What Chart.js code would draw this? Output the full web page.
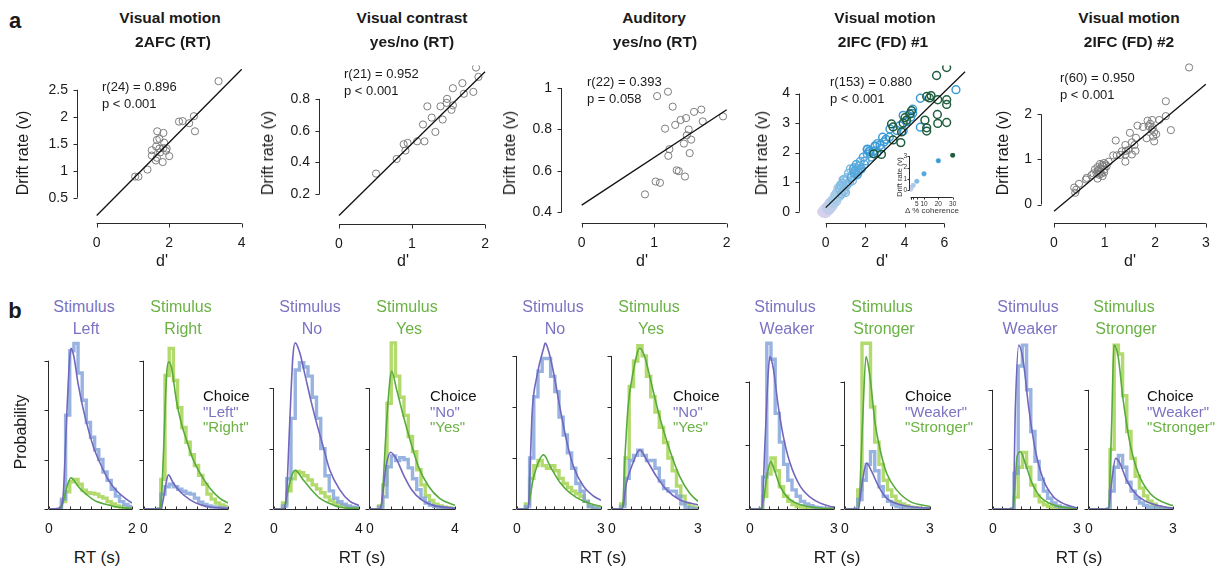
<!DOCTYPE html>
<html>
<head>
<meta charset="utf-8">
<script src="https://cdn.jsdelivr.net/npm/chart.js@4.4.1/dist/chart.umd.min.js"></script>
<style>
  body { margin: 0; width: 1221px; height: 567px; overflow: hidden; position: relative; background: #fff;
         font-family: "Liberation Sans", Arial, Helvetica, sans-serif; color: #1a1a1a; }
  canvas { position: absolute; }
  .t { position: absolute; white-space: nowrap; transform: translate(-50%, -50%); line-height: 1; }
  .l { position: absolute; white-space: nowrap; transform: translate(0, -50%); line-height: 1; }
</style>
</head>
<body>
<script>
// ---------- panel a: d' vs drift rate ----------
const p1Pts = [[3.36,2.66],[2.68,2.01],[2.71,1.73],[2.55,1.88],[2.27,1.91],[2.37,1.92],[1.67,1.73],[1.84,1.70],
  [1.66,1.57],[1.73,1.59],[1.86,1.52],[1.52,1.38],[1.64,1.45],[1.73,1.41],[1.84,1.42],[1.93,1.41],[1.91,1.37],
  [1.75,1.34],[1.52,1.28],[1.66,1.24],[2.0,1.27],[1.63,1.19],[1.82,1.16],[1.40,1.02],[1.06,0.89],[1.15,0.89]];
const p1Fit = [[0, 0.17], [4, 2.88]];

const p2Pts = [[1.877,0.997],[1.91,0.938],[1.69,0.899],[1.56,0.867],[1.71,0.832],[1.84,0.844],[1.48,0.80],
  [1.475,0.775],[1.39,0.753],[1.56,0.759],[1.54,0.731],[1.21,0.753],[1.27,0.682],[1.42,0.670],[1.15,0.639],
  [1.32,0.592],[1.17,0.533],[1.07,0.533],[0.94,0.523],[0.886,0.515],[0.91,0.475],[0.79,0.422],[0.507,0.330]];
const p2Fit = [[0, 0.066], [2, 0.971]];

const p3Pts = [[1.04,0.961],[1.19,0.982],[1.255,0.91],[1.15,0.804],[1.29,0.822],[1.365,0.846],[1.44,0.855],
  [1.55,0.885],[1.65,0.896],[1.67,0.839],[1.95,0.863],[1.476,0.80],[1.45,0.772],[1.51,0.751],[1.41,0.732],
  [1.21,0.705],[1.195,0.673],[1.49,0.686],[1.31,0.603],[1.34,0.599],[1.425,0.573],[1.02,0.549],[1.08,0.543],[0.873,0.487]];
const p3Fit = [[0, 0.435], [2, 0.895]];

// 2IFC (FD) #1, one list per coherence level
const p4Coh0625 = [[-0.15,0.02],[-0.1,0.05],[-0.05,-0.02],[0.0,0.04],[0.05,0.08],[-0.12,-0.05],[0.02,0.0],[0.1,0.1],
  [-0.08,0.1],[0.08,0.03],[0.0,-0.06],[0.15,0.12],[-0.2,0.0],[0.05,0.15],[0.12,0.05],[-0.03,0.12],[0.2,0.06],
  [0.07,-0.03],[-0.1,0.0],[0.03,0.07],[0.18,0.15],[-0.06,0.03]];
const p4Coh125 = [[0.1,0.15],[0.2,0.2],[0.15,0.25],[0.3,0.3],[0.25,0.18],[0.05,0.1],[0.35,0.25],[0.2,0.32],
  [0.4,0.38],[0.12,0.22],[0.28,0.12],[0.45,0.3],[0.18,0.08],[0.32,0.4],[0.5,0.42],[0.22,0.28],[0.38,0.2],
  [0.08,0.2],[0.42,0.45],[0.27,0.35],[0.15,0.05],[0.55,0.35]];
const p4Coh25 = [[0.4,0.45],[0.55,0.5],[0.6,0.62],[0.5,0.4],[0.7,0.6],[0.65,0.75],[0.45,0.55],[0.8,0.7],
  [0.75,0.82],[0.6,0.45],[0.85,0.78],[0.35,0.38],[0.9,0.85],[0.55,0.65],[0.7,0.52],[0.5,0.58],[0.95,0.7],
  [0.62,0.8],[0.82,0.9],[0.4,0.3],[0.72,0.68],[0.58,0.55]];
const p4Coh5 = [[0.7,0.78],[0.85,0.95],[1.0,1.05],[0.9,0.7],[1.1,1.15],[1.2,1.0],[0.95,1.1],[1.3,1.2],
  [1.05,0.88],[1.4,1.35],[0.8,0.6],[1.15,1.3],[1.5,1.25],[1.25,1.45],[1.6,1.4],[0.75,0.9],[1.35,1.05],
  [1.0,0.65],[1.45,1.5],[1.7,1.45],[1.1,0.95],[0.88,1.08]];
const p4Coh10 = [[1.3,1.15],[1.5,1.4],[1.6,1.25],[1.7,1.55],[1.8,1.45],[1.55,1.6],[2.0,1.72],[1.9,1.85],
  [2.1,1.95],[1.65,1.35],[2.2,2.05],[2.4,2.05],[1.45,1.3],[2.5,2.2],[2.3,1.85],[1.75,1.7],[2.1,2.1],
  [2.6,2.3],[1.95,1.6],[2.8,2.15],[1.4,1.45],[2.25,1.98]];
const p4Coh20 = [[2.11,2.12],[2.21,2.04],[2.41,2.04],[2.5,2.23],[2.75,2.25],[2.95,2.36],[2.88,2.52],[3.22,2.52],
  [3.25,2.8],[3.75,2.91],[3.92,2.73],[3.92,3.26],[4.4,3.47],[4.4,3.33],[4.79,3.84],[4.79,2.86],[6.59,4.13],
  [3.6,2.75],[4.1,3.05],[4.3,3.2],[3.05,2.45],[2.6,2.0]];
const p4Coh30 = [[6.12,4.88],[5.61,4.61],[6.12,3.79],[6.12,3.63],[5.67,3.79],[5.33,3.93],[5.11,3.90],[5.25,3.85],
  [5.65,3.29],[5.02,3.10],[5.11,2.84],[5.11,2.73],[5.67,2.99],[6.12,3.02],[4.01,3.18],[4.26,3.31],[4.09,3.10],
  [3.92,3.0],[3.84,2.70],[3.80,2.34],[3.33,2.97],[3.41,2.87],[3.41,2.43],[2.82,1.94],[2.43,1.96],[4.34,3.42]];
const p4Fit = [[0, 0.14], [7.05, 4.74]];
const insetCoh = [0.625, 1.25, 2.5, 5, 10, 20, 30];
const insetDrift = [0.08, 0.25, 0.45, 0.8, 1.45, 2.6, 3.08];

const p5Pts = [[2.67,3.04],[2.21,2.29],[2.21,1.96],[2.31,1.65],[2.08,1.875],[1.94,1.875],[1.85,1.86],[1.90,1.79],
  [1.87,1.74],[1.95,1.70],[1.98,1.61],[2.02,1.56],[1.96,1.51],[1.98,1.40],[1.83,1.47],[1.65,1.75],[1.50,1.59],
  [1.62,1.48],[1.54,1.38],[1.59,1.32],[1.61,1.19],[1.54,1.11],[1.41,1.32],[1.22,1.42],[1.42,1.19],[1.34,1.18],
  [1.31,1.10],[1.41,1.11],[1.24,1.09],[1.17,1.09],[1.41,0.95],[1.08,0.95],[0.99,0.92],[0.91,0.90],[0.97,0.85],
  [1.04,0.85],[0.86,0.83],[0.92,0.80],[0.81,0.78],[0.87,0.74],[0.92,0.73],[0.99,0.71],[0.84,0.69],[0.78,0.69],
  [0.89,0.66],[0.96,0.63],[0.86,0.575],[1.00,0.78],[0.74,0.65],[0.646,0.59],[0.63,0.555],[0.494,0.46],
  [0.40,0.375],[0.44,0.33],[0.42,0.26],[0.95,0.88],[0.88,0.77],[1.02,0.89],[1.93,1.66],[1.47,1.21],[0.93,0.68],[1.76,1.72]];
const p5Fit = [[0, -0.15], [3, 2.67]];

// ---------- panel b: RT distributions ----------
const bins1 = [0.3,0.4,0.5,0.6,0.7,0.8,0.9,1.0,1.1,1.2,1.3,1.4,1.5,1.6,1.7,1.8,1.9,2.0];
const hist1LBlue = [0.2,1.9,3.2,3.35,2.75,2.2,1.75,1.45,1.2,1.0,0.75,0.58,0.4,0.26,0.15,0.09,0.05];
const hist1LGreen = [0.15,0.35,0.55,0.6,0.5,0.38,0.33,0.32,0.3,0.25,0.22,0.15,0.1,0.06,0.04,0.02,0.01];
const hist1RBlue = [0,0.3,0.45,0.5,0.45,0.4,0.36,0.32,0.3,0.22,0.14,0.09,0.06,0.04,0.03,0.02,0.01];
const hist1RGreen = [0,0.6,2.7,3.25,2.6,2.05,1.65,1.35,1.1,0.88,0.68,0.5,0.3,0.2,0.12,0.08,0.05];
const fit1LPurple = [[0,0],[0.26,0.02],[0.34,0.26],[0.42,1.74],[0.49,2.95],[0.53,3.25],[0.6,3.08],[0.7,2.54],[0.83,2.0],
  [0.95,1.6],[1.07,1.26],[1.23,0.93],[1.43,0.59],[1.64,0.36],[1.88,0.19],[2.0,0.12]];
const fit1LGreen = [[0,0],[0.28,0],[0.36,0.2],[0.45,0.5],[0.53,0.63],[0.6,0.58],[0.7,0.46],[0.8,0.37],[0.91,0.29],
  [1.03,0.21],[1.15,0.15],[1.39,0.09],[1.64,0.04],[2.0,0.01]];
const fit1RPurple = [[0,0],[0.4,0],[0.46,0.2],[0.52,0.5],[0.58,0.69],[0.7,0.52],[0.85,0.36],[1.09,0.19],[1.33,0.09],
  [1.57,0.04],[2.0,0.01]];
const fit1RGreen = [[0,0],[0.36,0],[0.42,0.3],[0.46,1.06],[0.54,2.74],[0.59,2.98],[0.66,2.84],[0.77,2.2],[0.89,1.73],
  [1.01,1.4],[1.17,1.0],[1.33,0.73],[1.57,0.42],[1.8,0.22],[2.0,0.12]];

const bins2 = [0.4,0.6,0.8,1.0,1.2,1.4,1.6,1.8,2.0,2.2,2.4,2.6,2.8,3.0,3.2,3.4,3.6,3.8,4.0];
const hist2LBlue = [0.05,0.5,1.5,2.3,2.42,2.35,2.2,1.85,1.5,1.0,0.55,0.3,0.18,0.12,0.08,0.05,0.03,0.02];
const hist2LGreen = [0.1,0.3,0.5,0.62,0.6,0.55,0.48,0.4,0.33,0.27,0.2,0.14,0.1,0.07,0.05,0.03,0.02,0.01];
const hist2RBlue = [0.03,0.2,0.7,0.88,0.8,0.85,0.82,0.68,0.5,0.32,0.18,0.1,0.06,0.04,0.03,0.02,0.01,0];
const hist2RGreen = [0.05,0.4,1.75,2.75,2.2,1.85,1.55,1.2,0.95,0.65,0.4,0.22,0.14,0.08,0.05,0.03,0.02,0.01];
const fit2LPurple = [[0,0],[0.45,0],[0.6,0.3],[0.74,1.43],[0.89,2.53],[1.0,2.75],[1.21,2.59],[1.44,2.25],[1.76,1.76],
  [2.0,1.43],[2.31,1.04],[2.62,0.65],[3.09,0.32],[3.56,0.13],[4.0,0.06]];
const fit2LGreen = [[0,0],[0.45,0],[0.6,0.2],[0.82,0.54],[1.0,0.64],[1.36,0.49],[1.76,0.32],[2.15,0.18],[2.62,0.09],
  [3.09,0.03],[4.0,0.01]];
const fit2RPurple = [[0,0],[0.45,0],[0.55,0.1],[0.75,0.7],[0.97,0.94],[1.25,0.82],[1.57,0.57],[1.96,0.32],[2.43,0.15],
  [2.98,0.06],[4.0,0.01]];
const fit2RGreen = [[0,0],[0.45,0],[0.55,0.1],[0.78,1.43],[0.94,2.14],[1.02,2.28],[1.25,1.98],[1.57,1.54],[1.88,1.15],
  [2.27,0.71],[2.75,0.38],[3.29,0.17],[4.0,0.06]];

const bins3 = [0.3,0.45,0.6,0.75,0.9,1.05,1.2,1.35,1.5,1.65,1.8,1.95,2.1,2.25,2.4,2.55,2.7,2.85,3.0];
const hist3LBlue = [0.05,1.0,2.2,2.7,2.95,2.95,2.6,2.3,1.8,1.45,1.1,0.8,0.5,0.35,0.15,0.05,0.02,0];
const hist3LGreen = [0.1,0.6,0.85,0.95,0.85,0.8,0.85,0.75,0.6,0.5,0.42,0.35,0.3,0.25,0.15,0.05,0.02,0];
const hist3RBlue = [0.05,0.6,0.95,1.05,1.15,1.05,0.95,0.95,0.8,0.55,0.4,0.35,0.35,0.25,0.1,0.03,0.01,0];
const hist3RGreen = [0.1,1.0,2.4,2.9,3.2,3.0,2.6,2.2,1.9,1.6,1.3,1.0,0.75,0.45,0.25,0.1,0.05,0.02];
const fit3LPurple = [[0,0],[0.4,0],[0.48,1.0],[0.54,1.88],[0.71,2.6],[0.95,3.15],[1.01,3.25],[1.13,3.09],[1.31,2.66],
  [1.55,1.94],[1.79,1.29],[2.02,0.83],[2.38,0.44],[2.74,0.25],[3.0,0.17]];
const fit3LGreen = [[0,0],[0.36,0],[0.6,0.64],[0.95,1.06],[1.19,0.83],[1.55,0.51],[1.9,0.31],[2.38,0.15],[3.0,0.05]];
const fit3RPurple = [[0,0],[0.36,0],[0.5,0.5],[0.73,0.9],[0.97,1.16],[1.2,0.97],[1.55,0.64],[1.9,0.38],[2.36,0.18],[3.0,0.08]];
const fit3RGreen = [[0,0],[0.36,0],[0.45,1.0],[0.56,2.0],[0.73,2.66],[0.97,3.15],[1.14,2.99],[1.37,2.47],[1.66,1.81],
  [2.01,1.16],[2.36,0.64],[2.71,0.31],[3.0,0.15]];

const bins4 = bins3;
const hist4LBlue = [0,0.5,2.6,2.35,1.5,1.05,0.7,0.45,0.3,0.2,0.12,0.08,0.05,0.03,0.02,0.01,0,0];
const hist4LGreen = [0,0.2,0.55,0.8,0.6,0.35,0.2,0.12,0.07,0.04,0.03,0.02,0.01,0,0,0,0,0];
const hist4RBlue = [0,0.15,0.45,0.7,0.9,0.6,0.35,0.2,0.12,0.07,0.04,0.02,0.01,0,0,0,0,0];
const hist4RGreen = [0,0.3,2.6,2.6,1.6,1.05,0.7,0.45,0.3,0.2,0.12,0.08,0.05,0.03,0.02,0.01,0,0];
const fit4LPurple = [[0,0],[0.42,0],[0.54,1.09],[0.65,2.13],[0.71,2.39],[0.83,2.21],[1.01,1.61],[1.19,1.14],[1.43,0.72],
  [1.79,0.36],[2.26,0.15],[2.86,0.04],[3.0,0.03]];
const fit4LGreen = [[0,0],[0.42,0],[0.6,0.51],[0.74,0.74],[0.89,0.59],[1.07,0.36],[1.37,0.17],[1.79,0.07],[2.38,0.02],[3.0,0]];
const fit4RPurple = [[0,0],[0.47,0],[0.6,0.4],[0.76,0.72],[0.94,0.59],[1.18,0.36],[1.47,0.17],[1.94,0.07],[3.0,0.01]];
const fit4RGreen = [[0,0],[0.47,0],[0.62,1.35],[0.74,2.39],[0.88,2.08],[1.06,1.35],[1.24,0.93],[1.47,0.56],[1.82,0.3],
  [2.29,0.12],[3.0,0.04]];

const bins5 = [0.6,0.75,0.9,1.05,1.2,1.35,1.5,1.65,1.8,1.95,2.1,2.25,2.4,2.55,2.7,2.85,3.0];
const hist5LBlue = [0,0.6,2.4,2.75,2.0,1.3,0.8,0.5,0.3,0.18,0.1,0.05,0.03,0.02,0.01,0];
const hist5LGreen = [0,0.2,0.7,0.95,0.7,0.4,0.22,0.12,0.07,0.04,0.02,0.01,0,0,0,0];
const hist5RBlue = [0,0.3,0.7,0.9,0.7,0.45,0.3,0.18,0.1,0.06,0.03,0.02,0.01,0,0,0];
const hist5RGreen = [0,1.0,2.75,2.6,1.9,1.3,0.85,0.55,0.35,0.22,0.13,0.08,0.04,0.02,0.01,0];
const fit5LPurple = [[0,0],[0.72,0],[0.8,1.72],[0.92,2.75],[1.09,2.45],[1.27,1.72],[1.51,0.99],[1.8,0.49],[2.15,0.21],
  [2.62,0.07],[3.0,0.02]];
const fit5LGreen = [[0,0],[0.72,0],[0.86,0.88],[0.98,0.96],[1.15,0.77],[1.39,0.44],[1.68,0.21],[2.15,0.07],[3.0,0]];
const fit5RPurple = [[0,0],[0.69,0],[0.82,0.5],[0.95,0.85],[1.1,0.77],[1.34,0.49],[1.7,0.24],[2.17,0.1],[3.0,0.01]];
const fit5RGreen = [[0,0],[0.69,0],[0.81,1.44],[0.89,2.75],[1.04,2.56],[1.22,1.83],[1.46,1.11],[1.76,0.6],[2.17,0.27],
  [2.88,0.07],[3.0,0.06]];

// ---------- styling ----------
const FONT = '"Liberation Sans", Arial, Helvetica, sans-serif';
const PURPLE = '#7167bd', GREEN = '#58aa3e';
const BLUE_H = 'rgba(128,160,218,0.8)', GREEN_H = 'rgba(164,212,82,0.85)';
const PURPLE_T = '#7b73c2', GREEN_T = '#6ab244';
const cohColors = ['#d6d2ec', '#c0cdea', '#a6cce8', '#82bbe2', '#55a8dc', '#3a9ad6', '#1f5e3e'];

Chart.defaults.font.family = FONT;
Chart.defaults.color = '#1a1a1a';

// R-style detached axes: line only from first to last tick
const rAxis = {
  id: 'rAxis',
  beforeDatasetsDraw(chart, args, o) {
    if (!o || (!o.x && !o.y)) return;
    const { ctx, chartArea: a } = chart;
    const xs = chart.scales.x, ys = chart.scales.y;
    ctx.save();
    ctx.strokeStyle = '#2a2a2a';
    ctx.lineWidth = 1;
    ctx.beginPath();
    if (o.y) {
      const xa = Math.round(a.left) - 0.5;
      ctx.moveTo(xa, ys.getPixelForValue(o.y[0]));
      ctx.lineTo(xa, ys.getPixelForValue(o.y[o.y.length - 1]));
      o.y.forEach(v => {
        const p = Math.round(ys.getPixelForValue(v)) + 0.5;
        ctx.moveTo(xa, p); ctx.lineTo(xa - o.tl, p);
      });
    }
    if (o.x) {
      const ya = Math.round(a.bottom) + 0.5;
      ctx.moveTo(xs.getPixelForValue(o.x[0]), ya);
      ctx.lineTo(xs.getPixelForValue(o.x[o.x.length - 1]), ya);
      const d = o.xIn ? -o.xtl : o.xtl;
      o.x.forEach(v => {
        const p = Math.round(xs.getPixelForValue(v)) + 0.5;
        ctx.moveTo(p, ya); ctx.lineTo(p, ya + d);
      });
    }
    ctx.stroke();
    ctx.restore();
  }
};
Chart.register(rAxis);

function txt(s, x, y, css, cls) {
  const d = document.createElement('div');
  d.className = cls || 't';
  d.textContent = s;
  d.style.left = x + 'px';
  d.style.top = y + 'px';
  Object.assign(d.style, css || {});
  document.body.appendChild(d);
}

function scaleCfg(min, max, ticks, fit, tickOpts) {
  return {
    type: 'linear', min: min, max: max,
    afterFit: fit,
    afterBuildTicks: s => { s.ticks = ticks.map(v => ({ value: v })); },
    grid: { display: false, drawTicks: false },
    border: { display: false },
    ticks: Object.assign({ autoSkip: false, maxRotation: 0, minRotation: 0, callback: v => String(v) }, tickOpts)
  };
}

// box = chart area [left, top, right, bottom] in page px; pad = [l, t, r, b] around it
function makeChart(box, pad, xs, ys, datasets, axes) {
  const c = document.createElement('canvas');
  const w = box[2] - box[0] + pad[0] + pad[2], h = box[3] - box[1] + pad[1] + pad[3];
  c.width = w; c.height = h;
  c.style.left = (box[0] - pad[0]) + 'px';
  c.style.top = (box[1] - pad[1]) + 'px';
  c.style.width = w + 'px'; c.style.height = h + 'px';
  document.body.appendChild(c);
  new Chart(c, {
    type: 'scatter',
    data: { datasets: datasets },
    options: {
      responsive: false, animation: false, events: [],
      layout: { padding: { left: 0, top: pad[1], right: pad[2], bottom: 0 } },
      scales: {
        x: scaleCfg(xs.min, xs.max, xs.ticks, s => { s.height = pad[3]; }, xs.tickOpts),
        y: scaleCfg(ys.min, ys.max, ys.ticks, s => { s.width = pad[0]; }, ys.tickOpts)
      },
      plugins: { legend: { display: false }, tooltip: { enabled: false }, rAxis: axes }
    }
  });
}

const xy = pts => pts.map(p => ({ x: p[0], y: p[1] }));
const tickFont = { font: { size: 14 }, color: '#1a1a1a' };

function dotSet(pts, color, r, bw) {
  return { data: xy(pts), pointRadius: r || 3.6, pointBorderColor: color, pointBackgroundColor: 'rgba(0,0,0,0)',
           pointBorderWidth: bw || 1, showLine: false };
}
function fitSet(pts) {
  return { data: xy(pts), showLine: true, borderColor: '#111', borderWidth: 1.3, pointRadius: 0 };
}

function scatterPanel(box, xr, xt, yr, yt, pts, fit) {
  makeChart(box, [48, 8, 24, 34],
    { min: xr[0], max: xr[1], ticks: xt, tickOpts: Object.assign({ padding: 12 }, tickFont) },
    { min: yr[0], max: yr[1], ticks: yt, tickOpts: Object.assign({ padding: 10 }, tickFont) },
    [fitSet(fit), dotSet(pts, '#7d7d7d')],
    { x: xt, y: yt, tl: 4, xtl: 4 });
}

scatterPanel([78, 55, 245, 223], [-0.516, 4.09], [0, 2, 4], [0.03, 2.952], [0.5, 1, 1.5, 2, 2.5], p1Pts, p1Fit);
scatterPanel([320, 55, 487, 224], [-0.26, 2.027], [0, 1, 2], [0.013, 1.0105], [0.2, 0.4, 0.6, 0.8], p2Pts, p2Fit);
scatterPanel([562, 55, 730, 223], [-0.272, 2.046], [0, 1, 2], [0.349, 1.109], [0.4, 0.6, 0.8, 1], p3Pts, p3Fit);
scatterPanel([1042, 52, 1210, 223], [-0.237, 3.083], [0, 1, 2, 3], [-0.41, 3.152], [0, 1, 2], p5Pts, p5Fit);

// panel 4 with coherence colours
makeChart([800, 55, 968, 223], [48, 8, 24, 34],
  { min: -1.3, max: 7.2, ticks: [0, 2, 4, 6], tickOpts: Object.assign({ padding: 12 }, tickFont) },
  { min: -0.381, max: 4.952, ticks: [0, 1, 2, 3, 4], tickOpts: Object.assign({ padding: 10 }, tickFont) },
  [fitSet(p4Fit),
   dotSet(p4Coh30, cohColors[6], 3.9, 1.5), dotSet(p4Coh20, cohColors[5], 3.9, 1.5),
   dotSet(p4Coh10, cohColors[4], 3.9, 1.5), dotSet(p4Coh5, cohColors[3], 3.9, 1.5),
   dotSet(p4Coh25, cohColors[2], 3.9, 1.5), dotSet(p4Coh125, cohColors[1], 3.9, 1.5),
   dotSet(p4Coh0625, cohColors[0], 3.9, 1.5)],
  { x: [0, 2, 4, 6], y: [0, 1, 2, 3, 4], tl: 4, xtl: 4 });

// inset: drift rate per coherence
makeChart([910, 150, 956, 197], [16, 4, 10, 12],
  { min: 0.24, max: 32.3, ticks: [5, 10, 20, 30], tickOpts: { padding: 3, font: { size: 6.5 }, color: '#333' } },
  { min: -0.574, max: 3.28, ticks: [0, 1, 2, 3], tickOpts: { padding: 3, font: { size: 6.5 }, color: '#333' } },
  [{ data: insetCoh.map((c, i) => ({ x: c, y: insetDrift[i] })), showLine: false, pointRadius: 2.3,
     pointBackgroundColor: cohColors, pointBorderColor: cohColors, pointBorderWidth: 0.5 }],
  { x: [0.625, 1.25, 2.5, 5, 10, 20, 30], y: [0, 1, 2, 3], tl: 2, xtl: 2 });

// RT distribution panels
function steps(edges, vals) {
  const pts = [{ x: edges[0], y: 0 }];
  vals.forEach((v, i) => pts.push({ x: edges[i], y: v }));
  pts.push({ x: edges[vals.length], y: 0 });
  return pts;
}
function modelSet(pts, color) {
  return { data: xy(pts), showLine: true, borderColor: color, borderWidth: 1.6, pointRadius: 0,
           cubicInterpolationMode: 'monotone' };
}
function histSet(pts, color) {
  return { data: pts, showLine: true, stepped: true, borderColor: color, borderWidth: 3.4, pointRadius: 0 };
}
function rtPanel(box, xMax, minor, yMax, yt, bins, blue, green, fitP, fitG) {
  makeChart(box, [24, 6, 24, 36],
    { min: 0, max: xMax, ticks: [0, xMax], tickOpts: { padding: 12, font: { size: 14 }, color: '#1a1a1a' } },
    { min: 0, max: yMax, ticks: yt, tickOpts: { display: false } },
    [modelSet(fitP, PURPLE), modelSet(fitG, GREEN), histSet(steps(bins, blue), BLUE_H), histSet(steps(bins, green), GREEN_H)],
    { x: minor, y: yt, tl: 4, xtl: 3, xIn: true });
}
const minor2 = [0, 0.25, 0.5, 0.75, 1, 1.25, 1.5, 1.75, 2];
const minor4 = [0, 0.5, 1, 1.5, 2, 2.5, 3, 3.5, 4];
const minor3 = [0, 0.333, 0.667, 1, 1.333, 1.667, 2, 2.333, 2.667, 3];

rtPanel([49, 335, 132, 509], 2, minor2, 3.52, [0, 1, 2, 3], bins1, hist1LBlue, hist1LGreen, fit1LPurple, fit1LGreen);
rtPanel([144, 335, 228, 509], 2, minor2, 3.52, [0, 1, 2, 3], bins1, hist1RBlue, hist1RGreen, fit1RPurple, fit1RGreen);
rtPanel([274, 335, 359, 509], 4, minor4, 2.88, [0, 1, 2], bins2, hist2LBlue, hist2LGreen, fit2LPurple, fit2LGreen);
rtPanel([370, 335, 455, 509], 4, minor4, 2.88, [0, 1, 2], bins2, hist2RBlue, hist2RGreen, fit2RPurple, fit2RGreen);
rtPanel([517, 335, 601, 509], 3, minor3, 3.41, [0, 1, 2, 3], bins3, hist3LBlue, hist3LGreen, fit3LPurple, fit3LGreen);
rtPanel([612, 335, 698, 509], 3, minor3, 3.41, [0, 1, 2, 3], bins3, hist3RBlue, hist3RGreen, fit3RPurple, fit3RGreen);
rtPanel([750, 335, 834, 509], 3, minor3, 2.73, [0, 1, 2], bins4, hist4LBlue, hist4LGreen, fit4LPurple, fit4LGreen);
rtPanel([845, 335, 930, 509], 3, minor3, 2.73, [0, 1, 2], bins4, hist4RBlue, hist4RGreen, fit4RPurple, fit4RGreen);
rtPanel([993, 335, 1077, 509], 3, minor3, 2.92, [0, 1, 2], bins5, hist5LBlue, hist5LGreen, fit5LPurple, fit5LGreen);
rtPanel([1089, 335, 1173, 509], 3, minor3, 2.92, [0, 1, 2], bins5, hist5RBlue, hist5RGreen, fit5RPurple, fit5RGreen);

// ---------- text ----------
const bold = { fontWeight: 'bold', fontSize: '15.5px' };
txt('a', 15, 21, { fontWeight: 'bold', fontSize: '22px' });
txt('b', 15, 311, { fontWeight: 'bold', fontSize: '22px' });

[['Visual motion', '2AFC (RT)', 170, 173], ['Visual contrast', 'yes/no (RT)', 412, 412],
 ['Auditory', 'yes/no (RT)', 654, 655], ['Visual motion', '2IFC (FD) #1', 885, 883],
 ['Visual motion', '2IFC (FD) #2', 1129, 1129]].forEach(t => {
  txt(t[0], t[2], 18, bold);
  txt(t[1], t[3], 42, bold);
});

const rot = { fontSize: '16px', transform: 'translate(-50%, -50%) rotate(-90deg)' };
[23, 268, 510, 762, 1003].forEach(x => txt('Drift rate (v)', x, 153, rot));
[162, 403, 642, 882, 1130].forEach(x => txt("d'", x, 261, { fontSize: '16px' }));

const ann = { fontSize: '13px' };
[['r(24) = 0.896', 'p < 0.001', 102, 86], ['r(21) = 0.952', 'p < 0.001', 344, 73],
 ['r(22) = 0.393', 'p = 0.058', 587, 81], ['r(153) = 0.880', 'p < 0.001', 830, 81],
 ['r(60) = 0.950', 'p < 0.001', 1060, 77]].forEach(a => {
  txt(a[0], a[2], a[3], ann, 'l');
  txt(a[1], a[2], a[3] + 17, ann, 'l');
});

txt('Drift rate (v)', 900, 177, { fontSize: '7.5px', color: '#333', transform: 'translate(-50%, -50%) rotate(-90deg)' });
txt('\u0394 % coherence', 932, 211, { fontSize: '8px', color: '#333' });

txt('Probability', 21, 432, { fontSize: '16px', transform: 'translate(-50%, -50%) rotate(-90deg)' });
[97, 362, 603, 837, 1079].forEach(x => txt('RT (s)', x, 557, { fontSize: '17px' }));

const stimFont = { fontSize: '16px' };
[['Left', 84, 'Right', 181], ['No', 310, 'Yes', 407], ['No', 553, 'Yes', 649],
 ['Weaker', 785, 'Stronger', 882], ['Weaker', 1028, 'Stronger', 1124]].forEach(s => {
  txt('Stimulus', s[1], 307, Object.assign({ color: PURPLE_T }, stimFont));
  txt(s[0], s[1] + 2, 329, Object.assign({ color: PURPLE_T }, stimFont));
  txt('Stimulus', s[3], 307, Object.assign({ color: GREEN_T }, stimFont));
  txt(s[2], s[3] + 2, 329, Object.assign({ color: GREEN_T }, stimFont));
});

const legFont = { fontSize: '15px' };
[['"Left"', '"Right"', 203], ['"No"', '"Yes"', 430], ['"No"', '"Yes"', 673],
 ['"Weaker"', '"Stronger"', 905], ['"Weaker"', '"Stronger"', 1147]].forEach(g => {
  txt('Choice', g[2], 395, Object.assign({ color: '#111' }, legFont), 'l');
  txt(g[0], g[2], 410.5, Object.assign({ color: PURPLE_T }, legFont), 'l');
  txt(g[1], g[2], 426, Object.assign({ color: GREEN_T }, legFont), 'l');
});
</script>
</body>
</html>
